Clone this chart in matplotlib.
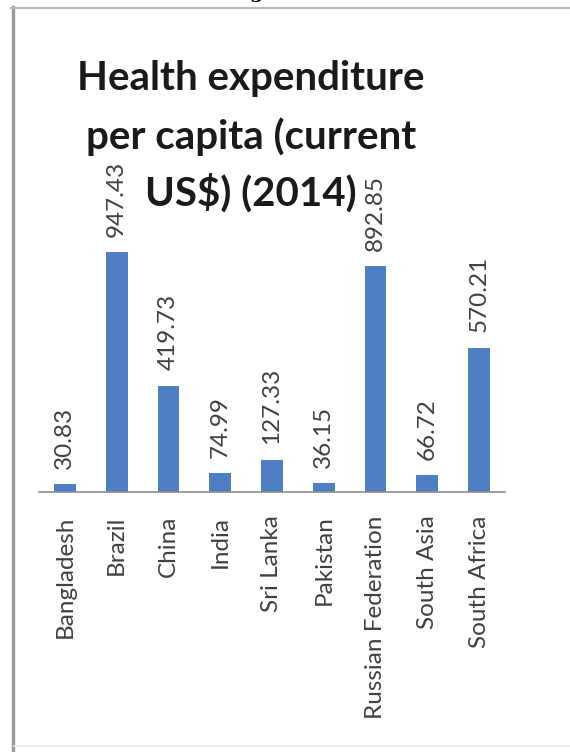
import matplotlib
matplotlib.use('Agg')
import matplotlib.pyplot as plt
from matplotlib.lines import Line2D

countries = ['Bangladesh', 'Brazil', 'China', 'India', 'Sri Lanka', 'Pakistan',
             'Russian Federation', 'South Asia', 'South Africa']
spend = [30.83, 947.43, 419.73, 74.99, 127.33, 36.15, 892.85, 66.72, 570.21]
title_lines = ['Health expenditure', 'per capita (current', 'US$) (2014)']

plt.rcParams['font.family'] = ['Lato', 'DejaVu Sans']

fig = plt.figure(figsize=(5.7, 7.52), dpi=100)
W, H = 570, 752

# outer chart frame: heavy left edge, lighter top, faint bottom
fig.add_artist(Line2D([12.5 / W, 12.5 / W], [0, 1 - 7 / H], transform=fig.transFigure,
                      color='#9a9a9a', linewidth=2.4))
fig.add_artist(Line2D([11 / W, 1], [1 - 7.5 / H, 1 - 7.5 / H], transform=fig.transFigure,
                      color='#b8b8b8', linewidth=1.6))
fig.add_artist(Line2D([14 / W, 1], [1 - 746 / H, 1 - 746 / H], transform=fig.transFigure,
                      color='#ececec', linewidth=1.2))

# caption fragment from the page above
fig.text(256 / W, 1 + 2 / H, 'g', family='DejaVu Serif', fontweight='bold',
         fontsize=14, ha='center', va='baseline', color='black')

ax = fig.add_axes([39 / W, 1 - 492 / H, 466 / W, 432 / H])
ax.bar(range(len(countries)), spend, width=0.42, color='#4f7ec2')
ax.set_xlim(-0.5, len(countries) - 0.5)
ax.set_ylim(0, 432 / 0.2533)

for i, v in enumerate(spend):
    ax.annotate(f'{v:.2f}', (i, v), xytext=(0, 11), textcoords='offset points',
                rotation=90, ha='center', va='bottom', fontsize=17.5, color='#404040')

ax.set_xticks(range(len(countries)))
ax.set_xticklabels(countries, rotation=90, fontsize=17.5, color='#404040')
ax.tick_params(axis='x', length=0, pad=17)
ax.set_yticks([])
for s in ['top', 'right', 'left']:
    ax.spines[s].set_visible(False)
ax.spines['bottom'].set_color('#8c8c8c')
ax.spines['bottom'].set_linewidth(1.2)
ax.patch.set_visible(False)

# title, one line at a time
for line, base in zip(title_lines, [90, 149, 206]):
    fig.text(251 / W, 1 - base / H, line, ha='center', va='baseline',
             fontsize=29, fontweight='bold', color='#1a1a1a')

fig.savefig('out.png', dpi=100)
